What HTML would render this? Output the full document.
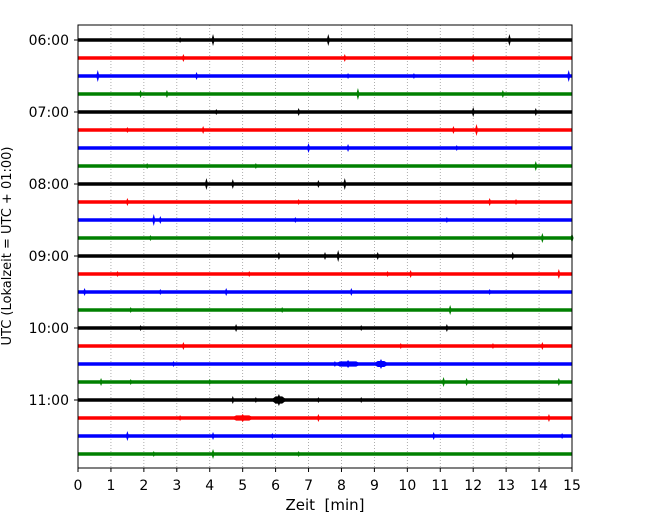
<!DOCTYPE html>
<html><head><meta charset="utf-8"><style>
body{margin:0;background:#fff;width:650px;height:520px;overflow:hidden}
svg{font-family:"DejaVu Sans","Liberation Sans",sans-serif}
</style></head><body>
<svg id="chart" width="650" height="520">
<g id="grid"></g>
<g id="traces"></g>
<rect x="78" y="25" width="494" height="443" fill="none" stroke="#000" stroke-width="1"/>
<g id="axes"></g>
<text x="325" y="510" text-anchor="middle" font-size="15" style="white-space:pre">Zeit  [min]</text>
<text transform="translate(11,246) rotate(-90)" text-anchor="middle" font-size="13">UTC (Lokalzeit = UTC + 01:00)</text>
</svg>
<script>
const xTicks=[0,1,2,3,4,5,6,7,8,9,10,11,12,13,14,15];
const hourLabels=["06:00","07:00","08:00","09:00","10:00","11:00"];
const colors=["#000","#f00","#00f","#008000"];
const traceCount=24;
// events: [trace index, minute, amplitude px]
const eventTrace=[0,0,0,0,0,1,1,1,2,2,2,2,2,3,3,3,3,4,4,4,4,5,5,5,5,6,6,6,7,7,7,8,8,8,8,9,9,9,9,10,10,10,10,11,11,11,12,12,12,12,12,13,13,13,13,13,14,14,14,14,14,15,15,15,16,16,16,16,17,17,17,17,18,18,18,18,19,19,19,19,19,19,20,20,20,20,20,21,21,21,21,22,22,22,22,22,23,23,23];
const eventMin=[4.1,7.6,13.1,3.1,6,8.1,3.2,12,0.6,14.9,3.6,8.2,10.2,8.5,1.9,2.7,12.9,12,13.9,6.7,4.2,12.1,3.8,11.4,1.5,7,8.2,11.5,13.9,2.1,5.4,3.9,4.7,8.1,7.3,1.5,6.7,12.5,13.3,2.3,2.5,6.6,11.2,14.1,15,2.2,6.1,7.9,7.5,9.1,13.2,14.6,10.1,1.2,5.2,9.4,0.2,4.5,2.5,8.3,12.5,11.3,6.2,1.6,1.9,4.8,11.2,8.6,3.2,14.1,12.6,9.8,8.2,9.2,7.8,2.9,0.7,1.6,4,11.1,11.8,14.6,6.1,4.7,5.4,7.3,8.6,5,7.3,3.1,14.3,1.5,4.1,5.9,10.8,14.7,4.1,2.3,6.7];
const eventAmp=[6,6,6,3,2,4,4,4,6,6,4,3,3,6,4,4,4,5,4,4,3,6,4,4,3,5,4,3,5,3,3,6,5,6,4,4,3,4,3,6,4,3,3,5,5,3,4,6,4,4,4,5,4,3,3,3,4,4,3,4,3,5,3,3,3,4,4,3,4,4,3,3,4,5,3,3,4,3,3,5,4,4,6,4,3,3,3,4,4,3,4,5,4,3,4,3,5,3,3];
const eventWidth=[0,0,0,0,0,0,0,0,0,0,0,0,0,0,0,0,0,0,0,0,0,0,0,0,0,0,0,0,0,0,0,0,0,0,0,0,0,0,0,0,0,0,0,0,0,0,0,0,0,0,0,0,0,0,0,0,0,0,0,0,0,0,0,0,0,0,0,0,0,0,0,0,0.5,0.2,0,0,0,0,0,0,0,0,0.2,0,0,0,0,0.4,0,0,0,0,0,0,0,0,0,0,0];
const NS="http://www.w3.org/2000/svg";
const X0=78,X1=572,Y0=40,DY=18;
const xs=m=>X0+m/15*(X1-X0);
const ys=i=>Y0+i*DY;
function mk(t,a,p){const e=document.createElementNS(NS,t);for(const k in a)e.setAttribute(k,a[k]);p.appendChild(e);return e;}
const grid=document.getElementById('grid'),tr=document.getElementById('traces'),ax=document.getElementById('axes');
xTicks.forEach(t=>{
 if(t>0&&t<15){const l=mk('line',{x1:xs(t),x2:xs(t),y1:25,y2:468,stroke:'#999','stroke-width':0.8,'stroke-dasharray':'1,2'},grid);
 
 }
 const tk=mk('line',{x1:xs(t),x2:xs(t),y1:468,y2:472,stroke:'#000'},ax);
 
 
 const tx=mk('text',{x:xs(t),y:490,'text-anchor':'middle','font-size':14},ax);tx.textContent=t;
 
 
});
hourLabels.forEach((h,k)=>{
 const y=ys(k*4);
 const tk=mk('line',{x1:74,x2:78,y1:y,y2:y,stroke:'#000'},ax);
 
 
 const tx=mk('text',{x:69,y:y+5,'text-anchor':'end','font-size':14},ax);tx.textContent=h;
 
 
});
for(let i=0;i<traceCount;i++){
 const l=mk('line',{x1:X0,x2:X1,y1:ys(i),y2:ys(i),stroke:colors[i%4],'stroke-width':3.4},tr);
 
 
}
eventMin.forEach((m,j)=>{
 const i=eventTrace[j],x=xs(m),y=ys(i),a=eventAmp[j],h=eventWidth[j]*(X1-X0)/15/2,w=1.6;
 let d;
 if(h>0){const b=Math.max(2.6,a*0.6);d=`M${x-h-w*3} ${y} L${x-h} ${y-b} L${x-1} ${y-b} L${x} ${y-a} L${x+1} ${y-b} L${x+h} ${y-b} L${x+h+w*3} ${y} L${x+h} ${y+b} L${x+1} ${y+b} L${x} ${y+a} L${x-1} ${y+b} L${x-h} ${y+b}Z`;}
 else d=`M${x-w} ${y} L${x} ${y-a} L${x+w} ${y} L${x} ${y+a}Z`;
 const p=mk('path',{d:d,fill:colors[i%4]},tr);
 
 
});
</script>
</body></html>
